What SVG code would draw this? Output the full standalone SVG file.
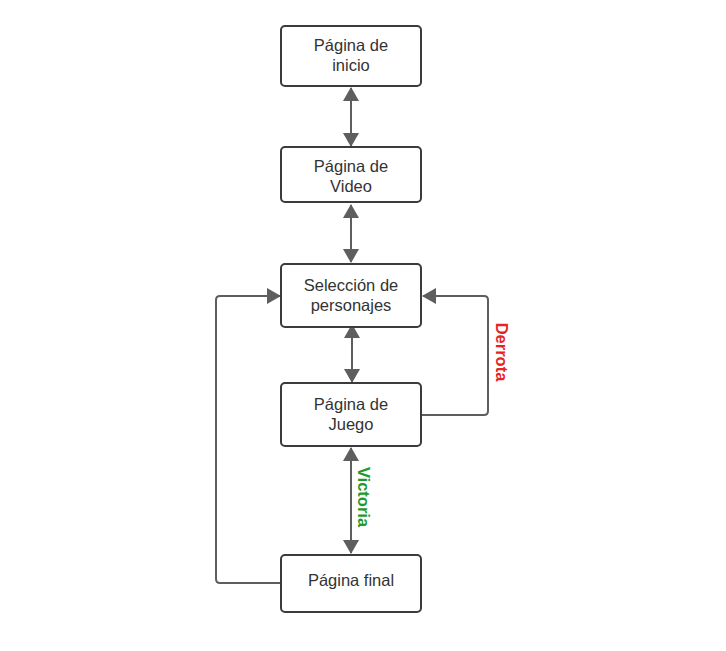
<svg xmlns="http://www.w3.org/2000/svg" width="726" height="651" viewBox="0 0 726 651">
  <style>
    .box { fill: #ffffff; stroke: #3a3a3f; stroke-width: 2; }
    .lbl { font-family: "Liberation Sans", Arial, sans-serif; font-size: 16.5px; fill: #333333; text-anchor: middle; }
    .wire { fill: none; stroke: #5e5e5e; stroke-width: 2; }
    .tag { font-family: "Liberation Sans", Arial, sans-serif; font-size: 16.5px; font-weight: bold; text-anchor: middle; }
  </style>
  <defs>
    <marker id="head" viewBox="0 0 14 16" refX="13" refY="8" markerWidth="14" markerHeight="16" markerUnits="userSpaceOnUse" orient="auto-start-reverse">
      <path d="M0,0 L14,8 L0,16 Z" fill="#5e5e5e"/>
    </marker>
  </defs>
  <rect width="726" height="651" fill="#ffffff"/>

  <g id="connectors">
    <line class="wire" x1="351" y1="88" x2="351" y2="146" marker-start="url(#head)" marker-end="url(#head)"/>
    <line class="wire" x1="351" y1="205" x2="351" y2="262" marker-start="url(#head)" marker-end="url(#head)"/>
    <line class="wire" x1="352" y1="325" x2="352" y2="382" marker-start="url(#head)" marker-end="url(#head)"/>
    <line class="wire" x1="351" y1="448" x2="351" y2="553" marker-start="url(#head)" marker-end="url(#head)"/>
    <path class="wire" d="M421,415 H484 Q488,415 488,411 V300 Q488,296 484,296 H423" marker-end="url(#head)"/>
    <path class="wire" d="M281,583 H220 Q216,583 216,579 V300 Q216,296 220,296 H280" marker-end="url(#head)"/>
    <text class="tag" fill="#e82323" transform="translate(496,352) rotate(90)">Derrota</text>
    <text class="tag" fill="#1e9a2e" transform="translate(358,497) rotate(90)">Victoria</text>
  </g>

  <g id="inicio">
    <rect class="box" x="281" y="26" width="140" height="60" rx="4"/>
    <text class="lbl" x="351" y="51">Página de</text>
    <text class="lbl" x="351" y="71">inicio</text>
  </g>
  <g id="video">
    <rect class="box" x="281" y="147" width="140" height="55" rx="4"/>
    <text class="lbl" x="351" y="172">Página de</text>
    <text class="lbl" x="351" y="192">Video</text>
  </g>
  <g id="seleccion">
    <rect class="box" x="281" y="264" width="140" height="63" rx="4"/>
    <text class="lbl" x="351" y="291">Selección de</text>
    <text class="lbl" x="351" y="311">personajes</text>
  </g>
  <g id="juego">
    <rect class="box" x="281" y="383" width="140" height="63" rx="4"/>
    <text class="lbl" x="351" y="410">Página de</text>
    <text class="lbl" x="351" y="430">Juego</text>
  </g>
  <g id="final">
    <rect class="box" x="281" y="555" width="140" height="57" rx="4"/>
    <text class="lbl" x="351" y="586">Página final</text>
  </g>
</svg>
